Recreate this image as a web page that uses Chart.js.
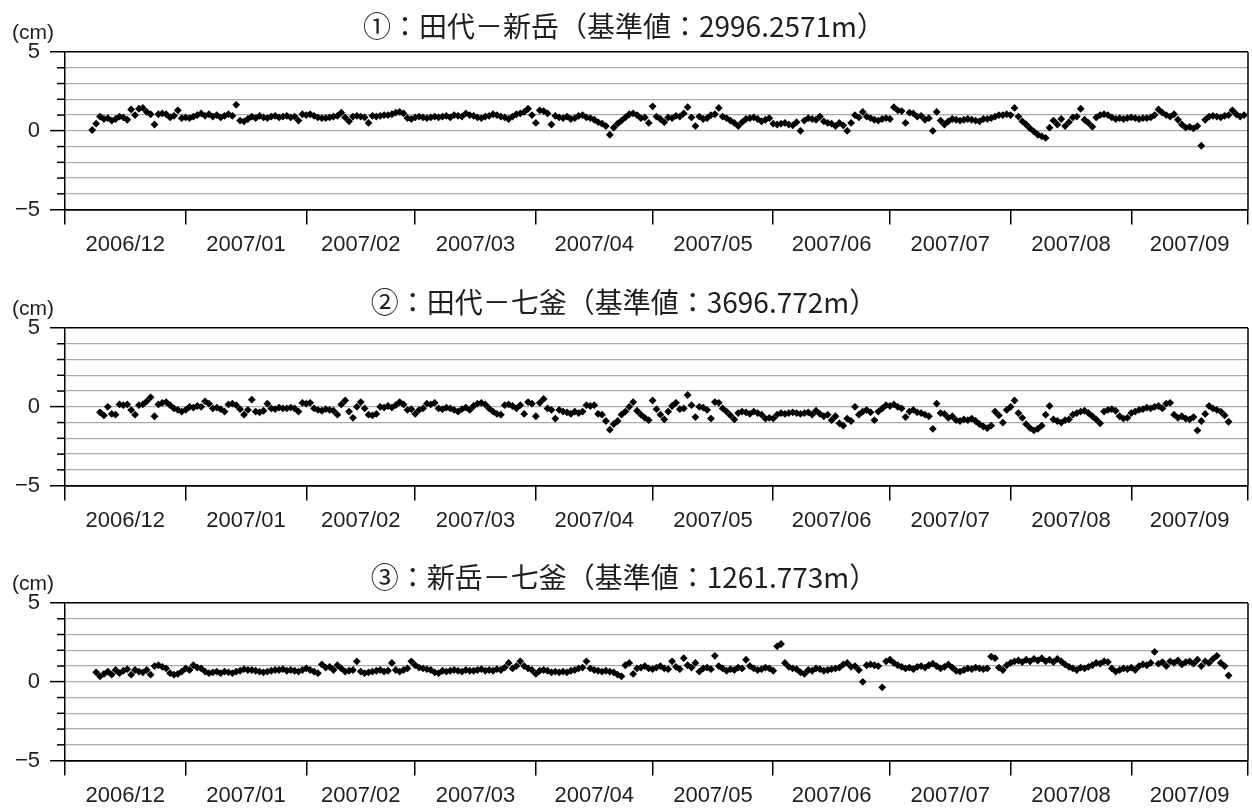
<!DOCTYPE html>
<html><head><meta charset="utf-8">
<script src="https://cdn.jsdelivr.net/npm/chart.js@4.4.0/dist/chart.umd.min.js"></script>
<style>
html,body{margin:0;padding:0;background:#fff;overflow:hidden;}
#wrap{width:1252px;height:810px;position:relative;overflow:hidden;}
.panel{position:absolute;left:0;width:1252px;height:276px;}
</style></head><body>
<div id="wrap">
<div class="panel" style="top:0"><canvas id="c1"></canvas></div>
<div class="panel" style="top:276px"><canvas id="c2"></canvas></div>
<div class="panel" style="top:551px"><canvas id="c3"></canvas></div>
</div>
<script>
// ---- data ----
const axisOrigin = '2006-12-01';
const monthStarts = ['2006-12-01','2007-01-01','2007-02-01','2007-03-01','2007-04-01','2007-05-01','2007-06-01','2007-07-01','2007-08-01','2007-09-01','2007-10-01'];
const monthLabels = ['2006/12','2007/01','2007/02','2007/03','2007/04','2007/05','2007/06','2007/07','2007/08','2007/09'];
const yMajorTicks = [5, 0, -5];
const yLabelText = {'5':'5','0':'0','-5':'\u22125'};
const unitLabel = '(cm)';

const title1 = '①：田代－新岳（基準値：2996.2571m）';
const title2 = '②：田代－七釜（基準値：3696.772m）';
const title3 = '③：新岳－七釜（基準値：1261.773m）';

const start1 = '2006-12-08';
const values1 = [0.05,0.45,0.9,0.75,0.8,0.65,0.75,0.9,0.85,0.7,
 1.35,1.0,1.4,1.45,1.2,1.05,0.4,1.05,1.1,1.05,
 0.85,0.95,1.3,0.8,0.85,0.8,0.9,1.0,1.1,0.95,
 1.05,0.9,1.0,0.85,0.95,1.05,0.95,1.65,0.65,0.6,
 0.75,0.9,0.8,0.95,0.85,0.8,0.9,0.95,0.85,0.9,
 0.95,0.85,0.9,0.65,1.05,1.0,1.05,0.95,0.85,0.8,
 0.8,0.85,0.9,0.95,1.15,0.85,0.6,0.9,0.95,0.9,
 0.85,0.5,0.95,0.9,0.95,1.0,1.0,1.05,1.15,1.2,
 1.1,0.8,0.75,0.85,0.9,0.85,0.8,0.85,0.9,0.85,
 0.9,0.95,0.85,1.0,0.95,0.9,1.1,1.0,0.95,0.85,
 0.8,0.9,0.95,1.05,1.0,0.9,0.85,0.75,0.9,1.05,
 1.1,1.2,1.4,1.0,0.5,1.3,1.25,1.1,0.4,0.95,
 0.85,0.8,0.9,0.75,0.8,0.95,1.0,0.85,0.8,0.7,
 0.55,0.45,0.3,-0.25,0.2,0.45,0.65,0.85,1.05,1.1,
 1.0,0.8,0.85,0.5,1.55,0.9,0.75,0.55,0.85,0.8,
 0.95,0.9,1.1,1.5,0.85,0.3,0.9,0.75,0.8,1.0,
 1.05,1.45,0.9,0.8,0.65,0.5,0.3,0.55,0.75,0.8,
 0.85,0.75,0.6,0.7,0.8,0.45,0.4,0.45,0.5,0.4,
 0.35,0.55,0.0,0.65,0.8,0.75,0.7,0.9,0.6,0.5,
 0.45,0.3,0.5,0.35,0.0,0.5,1.0,0.85,1.2,0.9,
 0.8,0.7,0.65,0.75,0.8,0.75,1.5,1.3,1.25,0.5,
 1.15,1.1,0.9,0.95,0.7,0.8,0.0,1.2,0.65,0.4,
 0.6,0.75,0.7,0.65,0.7,0.75,0.7,0.65,0.6,0.75,
 0.75,0.8,0.9,1.0,1.0,1.05,1.0,1.45,0.9,0.6,
 0.4,0.15,-0.05,-0.25,-0.35,-0.45,0.2,0.65,0.4,0.75,
 0.3,0.55,0.85,0.9,1.4,0.7,0.5,0.25,0.85,1.0,
 1.05,1.0,0.85,0.75,0.8,0.75,0.8,0.85,0.8,0.75,
 0.8,0.8,0.85,1.0,1.35,1.15,1.0,0.9,1.05,0.7,
 0.4,0.2,0.25,0.15,0.3,-0.95,0.7,0.9,0.95,0.9,
 0.85,0.95,1.0,1.3,1.05,0.9,1.0];

const start2 = '2006-12-10';
const values2 = [-0.35,-0.55,0.0,-0.45,-0.5,0.15,0.1,0.15,-0.2,-0.5,
 0.1,0.15,0.35,0.6,-0.6,0.15,0.25,0.3,0.1,-0.1,
 -0.2,-0.3,-0.2,0.0,-0.05,0.05,0.0,0.35,0.2,-0.1,
 -0.05,-0.15,-0.3,0.15,0.2,0.1,-0.15,-0.5,-0.2,0.45,
 -0.3,-0.35,-0.25,0.2,-0.1,-0.15,-0.05,-0.1,-0.1,-0.05,
 -0.1,-0.3,0.25,0.2,0.25,-0.1,-0.2,-0.25,-0.15,-0.2,
 -0.25,-0.5,0.15,0.4,-0.3,-0.7,0.0,0.3,-0.1,-0.5,
 -0.55,-0.45,0.0,-0.05,0.05,-0.05,0.1,0.3,0.15,-0.2,
 -0.15,-0.45,-0.2,-0.1,0.2,0.15,0.25,-0.1,-0.15,-0.05,
 -0.1,-0.2,-0.3,-0.15,-0.05,-0.2,0.05,0.2,0.25,0.15,
 -0.1,-0.3,-0.45,-0.5,0.1,0.15,0.05,-0.1,0.1,-0.45,
 0.3,0.2,-0.6,0.25,0.5,-0.1,-0.2,-0.75,-0.2,-0.3,
 -0.35,-0.45,-0.3,-0.4,-0.3,0.1,0.05,0.1,-0.45,-0.5,
 -0.9,-1.45,-1.1,-0.9,-0.5,-0.3,0.0,0.3,-0.25,-0.5,
 -0.7,-0.85,0.4,-0.15,-0.5,-0.8,-0.3,0.05,0.25,-0.15,
 -0.1,0.75,0.1,-0.65,0.0,-0.05,-0.2,-0.75,0.3,0.25,
 -0.1,-0.3,-0.55,-0.8,-0.4,-0.3,-0.35,-0.45,-0.3,-0.4,
 -0.5,-0.75,-0.7,-0.75,-0.5,-0.4,-0.45,-0.4,-0.35,-0.4,
 -0.45,-0.4,-0.35,-0.5,-0.25,-0.45,-0.6,-0.5,-0.85,-0.6,
 -1.05,-1.2,-0.75,-0.9,0.0,-0.5,-0.3,-0.2,-0.35,-0.85,
 -0.3,-0.1,0.1,0.05,0.15,0.0,-0.1,-0.65,-0.3,-0.2,
 -0.35,-0.4,-0.5,-0.6,-1.4,0.2,-0.4,-0.45,-0.7,-0.6,
 -0.85,-0.9,-0.8,-0.85,-0.75,-0.9,-1.1,-1.25,-1.35,-1.2,
 -0.3,-0.55,-1.0,-0.2,0.0,0.4,-0.4,-0.7,-1.1,-1.35,
 -1.5,-1.4,-1.2,-0.5,0.05,-0.8,-0.9,-1.0,-0.85,-0.8,
 -0.5,-0.4,-0.3,-0.25,-0.4,-0.6,-0.8,-1.05,-0.3,-0.2,
 -0.15,-0.25,-0.6,-0.75,-0.7,-0.4,-0.3,-0.2,-0.15,-0.05,
 -0.1,0.0,0.05,-0.1,0.2,0.25,-0.5,-0.7,-0.6,-0.75,
 -0.8,-0.65,-1.5,-0.9,-0.45,0.05,-0.1,-0.2,-0.3,-0.55,
 -0.95];

const start3 = '2006-12-09';
const values3 = [0.6,0.35,0.5,0.65,0.45,0.75,0.55,0.7,0.8,0.45,
 0.75,0.65,0.6,0.75,0.45,1.0,1.05,0.95,0.85,0.55,
 0.45,0.5,0.65,0.85,0.75,1.05,0.9,0.85,0.65,0.55,
 0.6,0.65,0.55,0.65,0.6,0.55,0.65,0.7,0.8,0.75,
 0.75,0.7,0.65,0.6,0.65,0.7,0.75,0.75,0.8,0.7,
 0.75,0.7,0.65,0.75,0.85,0.75,0.65,0.55,1.1,0.9,
 0.95,0.75,1.05,0.85,0.65,0.7,0.75,1.3,0.65,0.55,
 0.6,0.65,0.7,0.75,0.65,0.7,1.2,0.75,0.65,0.75,
 0.85,1.3,1.05,0.9,0.85,0.8,0.75,0.6,0.55,0.7,
 0.65,0.7,0.75,0.7,0.65,0.75,0.7,0.7,0.75,0.8,
 0.7,0.75,0.7,0.8,0.75,0.9,1.2,0.85,1.0,1.3,
 1.0,0.85,0.75,0.5,0.7,0.75,0.7,0.6,0.65,0.6,
 0.65,0.6,0.7,0.75,0.85,0.9,1.3,0.85,0.75,0.7,
 0.65,0.7,0.65,0.6,0.45,0.35,1.05,1.2,0.5,0.85,
 0.9,1.0,0.85,0.8,0.9,1.0,0.85,0.8,1.3,0.95,
 0.8,1.5,1.05,0.9,1.2,0.65,0.85,0.9,0.8,1.65,
 1.0,0.85,0.7,0.8,0.75,0.9,0.85,1.4,1.0,0.85,
 0.75,0.8,0.9,0.85,0.7,2.25,2.4,1.2,0.95,0.85,
 0.8,0.6,0.5,0.75,0.7,0.85,0.8,0.7,0.75,0.8,
 0.85,0.9,1.1,1.2,0.95,1.0,0.75,0.0,1.05,1.1,
 1.05,1.0,-0.35,1.3,1.4,1.2,1.05,0.95,0.85,0.9,
 0.8,0.95,1.0,0.9,1.05,1.15,1.0,0.85,0.95,1.1,
 0.9,0.7,0.65,0.75,0.85,0.8,0.9,0.85,0.8,0.85,
 1.6,1.5,0.9,0.75,1.05,1.2,1.3,1.35,1.25,1.4,
 1.3,1.45,1.35,1.5,1.3,1.4,1.25,1.45,1.3,1.1,
 0.95,0.85,0.75,0.9,0.85,0.95,1.05,1.2,1.15,1.3,
 1.25,0.85,0.65,0.75,0.85,0.8,0.9,0.75,1.0,1.1,
 1.05,1.2,1.9,1.15,1.25,1.0,1.3,1.2,1.35,1.1,
 1.25,1.3,1.15,1.4,1.0,1.3,1.2,1.45,1.65,1.2,
 1.0,0.4];

// ---- helpers ----
function dayOf(s){ return Math.round((Date.parse(s) - Date.parse(axisOrigin)) / 86400000); }
const monthDays = monthStarts.map(dayOf);
const monthMids = monthLabels.map((_, i) => (monthDays[i] + monthDays[i+1]) / 2);
function toPoints(start, vals){ const d0 = dayOf(start); return vals.map((v, i) => ({x: d0 + i, y: v})); }

const LABEL_FONT = {family: '"Liberation Sans", Arial, sans-serif', size: 22};
const TEXT_COLOR = '#1e1e1e';

const framePlugin = {
  id: 'frame',
  afterDraw(chart){
    const {ctx, chartArea: a} = chart;
    const y = chart.scales.y;
    ctx.save();
    ctx.strokeStyle = '#000';
    ctx.lineWidth = 1.5;
    ctx.beginPath(); ctx.moveTo(a.right, a.top); ctx.lineTo(a.right, a.bottom); ctx.stroke();
    y.ticks.forEach(t => {
      if (!yMajorTicks.includes(t.value)) {
        const p = y.getPixelForValue(t.value);
        ctx.beginPath(); ctx.moveTo(a.left - 8, p); ctx.lineTo(a.left, p); ctx.stroke();
      }
    });
    ctx.font = '21px "Liberation Sans", Arial, sans-serif';
    ctx.fillStyle = TEXT_COLOR;
    ctx.textAlign = 'left';
    ctx.textBaseline = 'middle';
    ctx.fillText(unitLabel, 12, a.top - 19);
    ctx.restore();
  }
};

function makeChart(id, title, start, vals){
  return new Chart(document.getElementById(id), {
    type: 'scatter',
    data: { datasets: [{
      data: toPoints(start, vals),
      pointStyle: 'rectRot', pointRadius: 3.9, pointHoverRadius: 3.9,
      backgroundColor: '#000', borderColor: '#000', borderWidth: 0, showLine: false
    }]},
    options: {
      responsive: true, maintainAspectRatio: false, animation: false,
      layout: { padding: {left: 0, right: 4, top: 0, bottom: 11} },
      plugins: {
        legend: {display: false}, tooltip: {enabled: false},
        title: { display: true, text: title, color: TEXT_COLOR,
          font: {family: '"Noto Sans CJK JP", sans-serif', size: 28, weight: 'normal', lineHeight: 1.2},
          padding: {top: 10, bottom: 8.4} }
      },
      scales: {
        x: {
          type: 'linear', position: 'bottom', min: monthDays[0], max: monthDays[monthDays.length-1],
          afterBuildTicks: s => { s.ticks = monthDays.map(v => ({value: v})); },
          ticks: {display: false},
          grid: {display: true, drawOnChartArea: false, drawTicks: true, tickLength: 15, color: '#000', lineWidth: 1.5},
          border: {display: true, color: '#000', width: 1.5}
        },
        x2: {
          type: 'linear', position: 'bottom', min: monthDays[0], max: monthDays[monthDays.length-1],
          afterBuildTicks: s => { s.ticks = monthMids.map(v => ({value: v})); },
          ticks: {display: true, autoSkip: false, maxRotation: 0, padding: 7, font: LABEL_FONT, color: TEXT_COLOR,
            callback: (v, i) => monthLabels[i]},
          grid: {display: false, drawTicks: false},
          border: {display: false}
        },
        y: {
          min: -5, max: 5,
          afterFit: s => { s.width = 65; },
          ticks: {stepSize: 1, padding: 10, font: LABEL_FONT, color: TEXT_COLOR, autoSkip: false,
            callback: v => (yLabelText[String(v)] !== undefined ? yLabelText[String(v)] : '')},
          grid: {
            drawTicks: true, tickLength: 15,
            color: c => (c.tick && Math.abs(c.tick.value) === 5 ? '#000' : '#ababab'),
            lineWidth: c => (c.tick && Math.abs(c.tick.value) === 5 ? 1.5 : 1.2),
            tickColor: c => (c.tick && yMajorTicks.includes(c.tick.value) ? '#000' : 'rgba(0,0,0,0)'),
            tickWidth: 1.5
          },
          border: {display: true, color: '#000', width: 1.5}
        }
      }
    },
    plugins: [framePlugin]
  });
}

makeChart('c1', title1, start1, values1);
makeChart('c2', title2, start2, values2);
makeChart('c3', title3, start3, values3);
</script>
</body></html>
